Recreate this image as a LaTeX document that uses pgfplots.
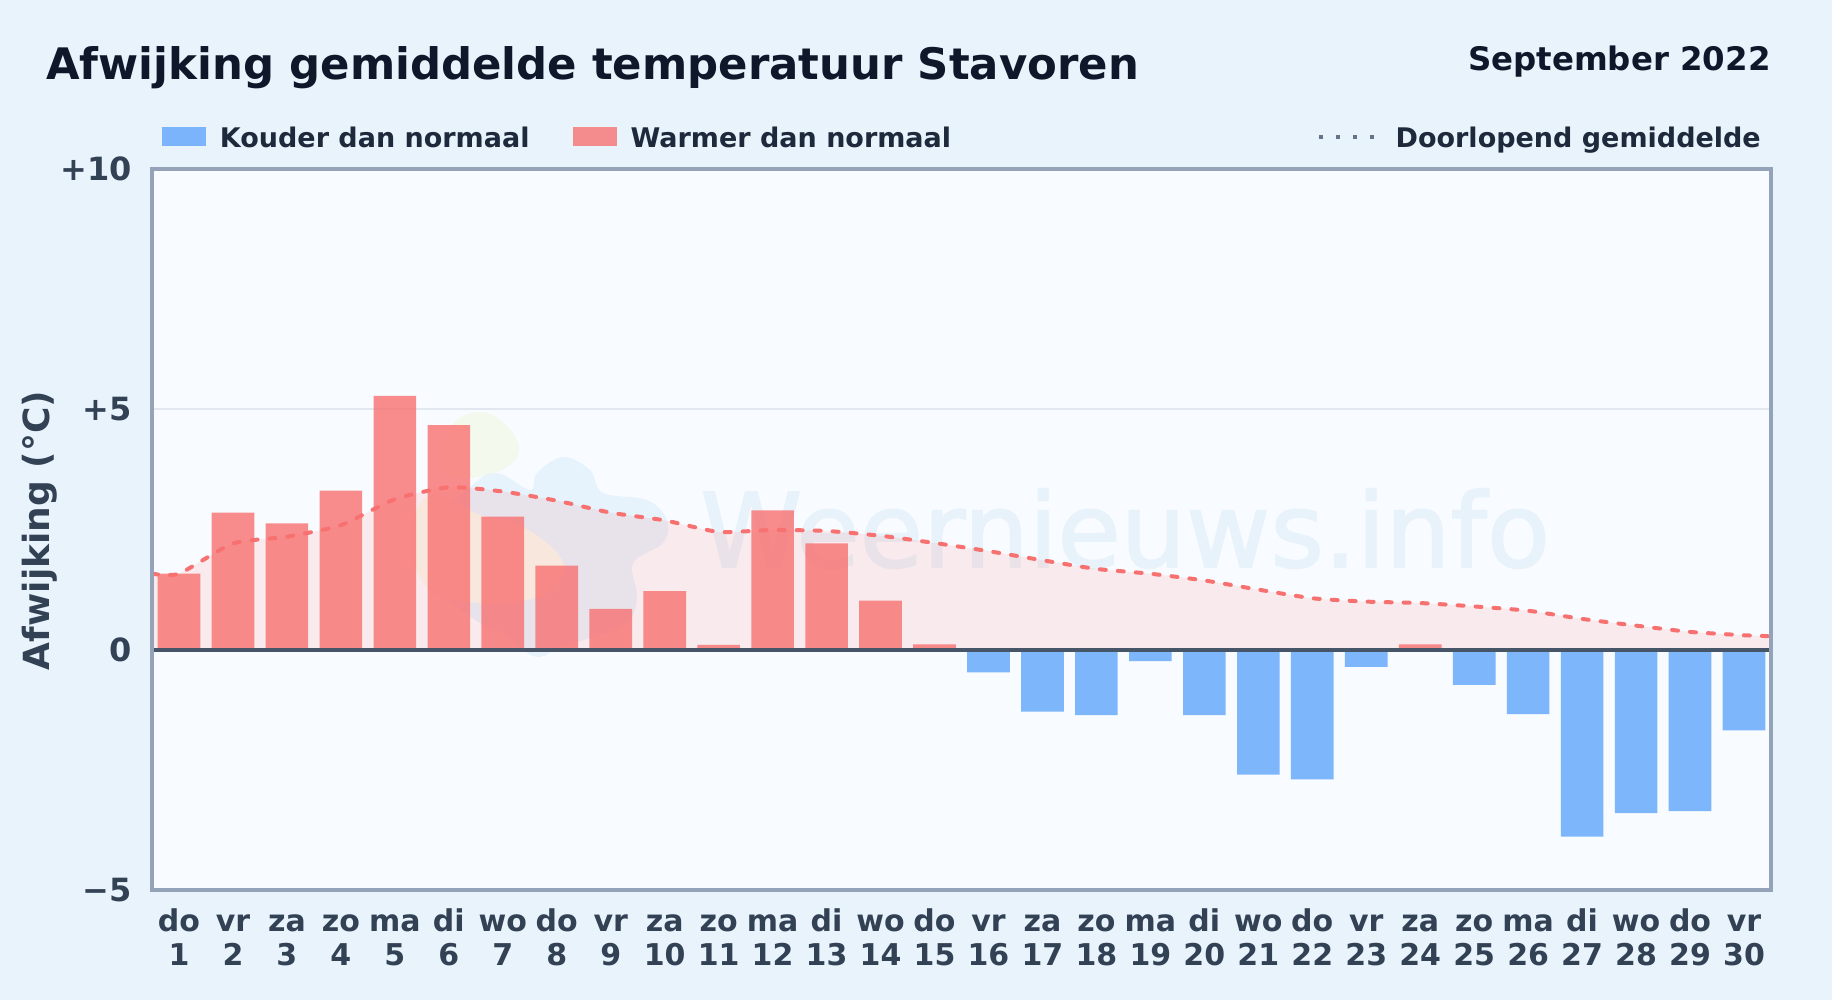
\documentclass[border=0pt]{standalone}
\usepackage{pgfplots}
\pgfplotsset{compat=1.18}
\usepackage{fontspec}
\setmainfont{DejaVu Sans}
\newfontfamily\wmfont[FakeBold=1.6]{DejaVu Sans}
\definecolor{pagebg}{HTML}{E8F3FC}
\definecolor{plotbg}{HTML}{F8FBFF}
\definecolor{frame}{HTML}{94A3B8}
\definecolor{titlec}{HTML}{0F172A}
\definecolor{tickc}{HTML}{334155}
\definecolor{legc}{HTML}{1E293B}
\definecolor{zeroc}{HTML}{475569}
\definecolor{gridc}{HTML}{E2E8F0}
\definecolor{warm}{HTML}{F87171}
\definecolor{cold}{HTML}{60A5FA}
\definecolor{avgline}{HTML}{F87171}
\definecolor{avgleg}{HTML}{64748B}
\definecolor{wmtext}{HTML}{E8F2FA}
\definecolor{blobblue}{HTML}{E6F3FD}
\definecolor{blobyellow}{HTML}{F8F8EC}
\definecolor{blobgreen}{HTML}{F3F9EC}
\newcommand{\dl}[2]{\strut #1\\\strut #2}

\begin{document}
\begin{tikzpicture}[x=0.5pt,y=-0.5pt]
% page, plot area and watermark first, everything in reference pixels
\fill[pagebg] (0,0) rectangle (1832,1000);
\fill[plotbg] (152,169) rectangle (1771,890);
\fill[blobgreen] plot[smooth cycle,tension=0.7] coordinates {(452,425)(487,413)(517,440)(510,465)(470,478)(445,470)};
\fill[blobblue] plot[smooth cycle,tension=0.6] coordinates {
(470,487)(497,473)(530,490)(537,473)(563,457)(590,470)(603,493)(647,500)(667,520)(663,543)(633,563)(637,597)(627,623)(593,637)(560,647)(540,657)(523,650)(503,633)(480,623)(440,590)(420,540)};
\fill[blobyellow] plot[smooth cycle,tension=0.7] coordinates {(430,495)(480,515)(523,527)(562,560)(553,587)(527,600)(480,603)(430,590)(410,540)};
\node[anchor=base west,font=\fontsize{51.5}{52}\selectfont\wmfont,text=wmtext,inner sep=0pt] at (700,567) {Weernieuws.info};

\begin{axis}[
  at={(76pt,-445pt)}, anchor=south west,
  scale only axis, width=809.5pt, height=360.5pt,
  xmin=0.5, xmax=30.5, ymin=-5, ymax=10,
  axis line style={draw=none},
  after end axis/.code={\draw[frame, line width=1.6pt] (rel axis cs:0,0) rectangle (rel axis cs:1,1);},
  ytick={-5,0,5,10},
  yticklabels={−5,0,+5,+10},
  xtick={1,...,30},
  xticklabels={{\dl{do}{1}},{\dl{vr}{2}},{\dl{za}{3}},{\dl{zo}{4}},{\dl{ma}{5}},{\dl{di}{6}},{\dl{wo}{7}},{\dl{do}{8}},{\dl{vr}{9}},{\dl{za}{10}},{\dl{zo}{11}},{\dl{ma}{12}},{\dl{di}{13}},{\dl{wo}{14}},{\dl{do}{15}},{\dl{vr}{16}},{\dl{za}{17}},{\dl{zo}{18}},{\dl{ma}{19}},{\dl{di}{20}},{\dl{wo}{21}},{\dl{do}{22}},{\dl{vr}{23}},{\dl{za}{24}},{\dl{zo}{25}},{\dl{ma}{26}},{\dl{di}{27}},{\dl{wo}{28}},{\dl{do}{29}},{\dl{vr}{30}}},
  major tick length=0pt,
  x tick label style={font=\fontsize{15}{17}\selectfont\bfseries, text=tickc, align=center, inner sep=0pt, yshift=-8.6pt},
  y tick label style={font=\fontsize{16}{16}\selectfont\bfseries, text=tickc, inner sep=0pt, xshift=-10pt},
  ymajorgrids, grid style={gridc, line width=1.1pt},
  ylabel={Afwijking (°C)},
  y label style={font=\fontsize{18}{18}\selectfont\bfseries, text=tickc, at={(axis description cs:-0.0691,0.4985)}, anchor=center},
  legend columns=3,
  legend cell align=left,
  legend style={at={(1,1)}, anchor=south east, xshift=-4.9pt, yshift=9.2pt, draw=none, fill=none,
    font=\fontsize{13.5}{13.5}\selectfont\bfseries, text=legc, inner sep=0pt,
    nodes={inner sep=0pt},
    /tikz/column 1/.style={column sep=7pt},
    /tikz/column 2/.style={column sep=21.5pt},
    /tikz/column 3/.style={column sep=7pt},
    /tikz/column 4/.style={column sep=183pt},
    /tikz/column 5/.style={column sep=9.75pt}},
]
% area below the running mean
\addplot[forget plot, smooth, tension=0.35, draw=none, fill=warm, fill opacity=0.12] coordinates {
(0.5,1.58)(1,1.58)(2,2.21)(3,2.35)(4,2.59)(5,3.13)(6,3.38)(7,3.29)(8,3.10)(9,2.85)(10,2.69)
(11,2.45)(12,2.49)(13,2.47)(14,2.37)(15,2.22)(16,2.05)(17,1.86)(18,1.68)(19,1.58)(20,1.44)
(21,1.25)(22,1.07)(23,1.00)(24,0.97)(25,0.90)(26,0.81)(27,0.64)(28,0.50)(29,0.37)(30,0.30)(30.5,0.28)
} \closedcycle;

\addplot[ybar, bar width=0.79, bar shift=0pt, draw=none, fill=cold, fill opacity=0.8,
  legend image code/.code={\fill[cold, fill opacity=0.8] (0pt,-3.8pt) rectangle (22pt,5.7pt);}] coordinates {
(16,-0.47)(17,-1.29)(18,-1.36)(19,-0.24)(20,-1.36)(21,-2.60)(22,-2.70)(23,-0.36)(25,-0.73)(26,-1.34)(27,-3.89)(28,-3.40)(29,-3.36)(30,-1.68)
};
\addlegendentry{Kouder dan normaal}

\addplot[ybar, bar width=0.79, bar shift=0pt, draw=none, fill=warm, fill opacity=0.8,
  legend image code/.code={\fill[warm, fill opacity=0.8] (0pt,-3.8pt) rectangle (22pt,5.7pt);}] coordinates {
(1,1.58)(2,2.85)(3,2.63)(4,3.31)(5,5.28)(6,4.67)(7,2.77)(8,1.75)(9,0.85)(10,1.22)(11,0.10)(12,2.90)(13,2.21)(14,1.02)(15,0.11)(24,0.11)
};
\addlegendentry{Warmer dan normaal}

% zero line
\addplot[forget plot, zeroc, line width=2pt] coordinates {(0.5,0)(30.5,0)};

\addplot[smooth, tension=0.35, avgline, line width=2pt, line cap=round, dash pattern=on 3pt off 6pt,
  legend image code/.code={\draw[avgleg, line width=2pt, line cap=butt, dash pattern=on 2pt off 6.5pt] (0pt,0.9pt) -- (27.5pt,0.9pt);}] coordinates {
(0.5,1.58)(1,1.58)(2,2.21)(3,2.35)(4,2.59)(5,3.13)(6,3.38)(7,3.29)(8,3.10)(9,2.85)(10,2.69)
(11,2.45)(12,2.49)(13,2.47)(14,2.37)(15,2.22)(16,2.05)(17,1.86)(18,1.68)(19,1.58)(20,1.44)
(21,1.25)(22,1.07)(23,1.00)(24,0.97)(25,0.90)(26,0.81)(27,0.64)(28,0.50)(29,0.37)(30,0.30)(30.5,0.28)
};
\addlegendentry{Doorlopend gemiddelde}
\end{axis}

\node[anchor=base west,inner sep=0pt,font=\fontsize{21.7}{22}\selectfont\bfseries,text=titlec] at (46,80) {Afwijking gemiddelde temperatuur Stavoren};
\node[anchor=base east,inner sep=0pt,font=\fontsize{16.2}{16}\selectfont\bfseries,text=titlec] at (1771,71) {September 2022};
\end{tikzpicture}
\end{document}
